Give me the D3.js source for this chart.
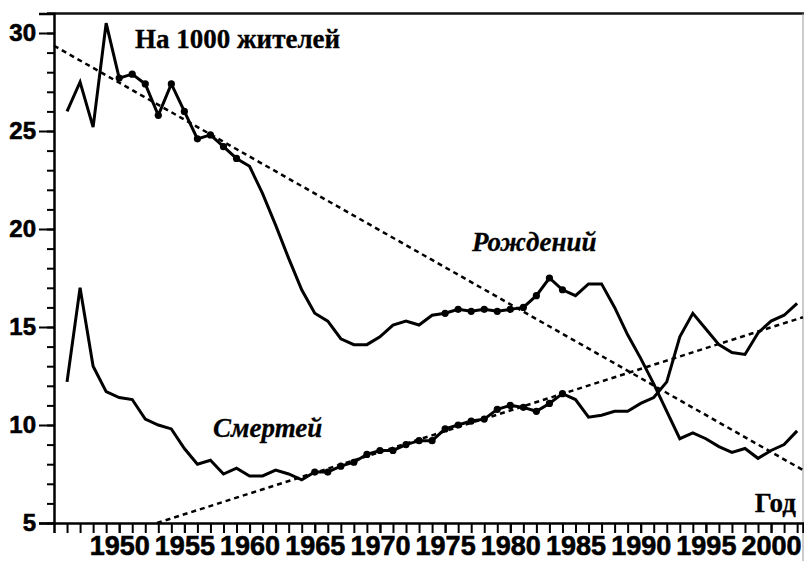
<!DOCTYPE html>
<html>
<head>
<meta charset="utf-8">
<script src="https://cdn.jsdelivr.net/npm/d3@7"></script>
<style>
  body { margin: 0; background: #fff; }
  svg { display: block; }
  .tick text { font-family: "Liberation Sans", Arial, sans-serif; font-weight: bold; fill: #000; stroke: #000; stroke-width: 0.6px; }
  .lbl { font-family: "Liberation Serif", "Times New Roman", serif; font-weight: bold; fill: #000; stroke: #000; stroke-width: 0.3px; }
</style>
</head>
<body>
<svg width="804" height="561"></svg>
<script>
  // years 1946..2002
  let years = d3.range(1946, 2003);

  // рождаемость, на 1000 жителей
  let births = [26.0, 27.5, 25.2, 30.5, 27.7, 27.9, 27.4, 25.8, 27.4, 26.0,
    24.6, 24.8, 24.2, 23.6, 23.2, 21.8, 20.2, 18.5, 16.9, 15.7,
    15.3, 14.4, 14.1, 14.1, 14.5, 15.1, 15.3, 15.1, 15.6, 15.7,
    15.9, 15.8, 15.9, 15.8, 15.9, 16.0, 16.6, 17.5, 16.9, 16.6,
    17.2, 17.2, 16.0, 14.6, 13.4, 12.1, 10.7, 9.3, 9.6, 9.3,
    8.9, 8.6, 8.8, 8.3, 8.7, 9.0, 9.7];

  // смертность, на 1000 жителей
  let deaths = [12.2, 17.0, 13.0, 11.7, 11.4, 11.3, 10.3, 10.0, 9.8, 8.8,
    8.0, 8.2, 7.5, 7.8, 7.4, 7.4, 7.7, 7.5, 7.2, 7.6,
    7.6, 7.9, 8.1, 8.5, 8.7, 8.7, 9.0, 9.2, 9.2, 9.8,
    10.0, 10.2, 10.3, 10.8, 11.0, 10.9, 10.7, 11.1, 11.6, 11.3,
    10.4, 10.5, 10.7, 10.7, 11.1, 11.4, 12.2, 14.5, 15.7, 14.9,
    14.1, 13.7, 13.6, 14.7, 15.3, 15.6, 16.2];

  // years marked with dots
  let birthMarked = d3.range(1950, 1960).concat(d3.range(1975, 1985));
  let deathMarked = d3.range(1965, 1985);

  // trend lines (end points)
  let birthTrend = [[1945, 29.35], [2002.45, 7.7]];
  let deathTrend = [[1952.9, 5.0], [2002.45, 15.5]];

  let yMajor = [5, 10, 15, 20, 25, 30];
  let yMinor = d3.range(5, 32);
  let xMajor = [1950, 1955, 1960, 1965, 1970, 1975, 1980, 1985, 1990, 1995, 2000];
  let xMinor = d3.range(1946, 2003);

  window.onload = function() {
    let svg = d3.select("svg");

    let x = d3.scaleLinear().domain([1945, 2002.45]).range([54, 803]);
    let y = d3.scaleLinear().domain([5, 31]).range([523, 13.4]);

    // frame: top line and right edge
    svg.append("line")
      .attr("x1", 47).attr("x2", 804)
      .attr("y1", y(31)).attr("y2", y(31))
      .attr("stroke", "#111").attr("stroke-width", 2.5);
    svg.append("line")
      .attr("x1", 803).attr("x2", 803)
      .attr("y1", y(31)).attr("y2", 561)
      .attr("stroke", "#999").attr("stroke-width", 1);

    // y axis
    svg.append("g")
      .attr("transform", "translate(" + x(1945) + ",0)")
      .call(d3.axisLeft(y).tickValues(yMinor).tickSize(7).tickFormat(""))
      .call(g => g.select(".domain").remove())
      .selectAll("line").attr("stroke", "#000").attr("stroke-width", 2);
    let ya = svg.append("g")
      .attr("transform", "translate(" + x(1945) + ",0)")
      .call(d3.axisLeft(y).tickValues(yMajor).tickSize(15).tickPadding(3).tickFormat(d3.format("d")));
    ya.select(".domain").attr("stroke", "#000").attr("stroke-width", 2.5);
    ya.selectAll("line").attr("stroke", "#000").attr("stroke-width", 2);
    ya.selectAll("text").style("font-size", "24px");

    // x axis
    svg.append("g")
      .attr("transform", "translate(0," + y(5) + ")")
      .call(d3.axisBottom(x).tickValues(xMinor).tickSize(10).tickFormat(""))
      .call(g => g.select(".domain").remove())
      .selectAll("line").attr("stroke", "#000").attr("stroke-width", 2);
    let xa = svg.append("g")
      .attr("transform", "translate(0," + y(5) + ")")
      .call(d3.axisBottom(x).tickValues(xMajor).tickSize(10).tickPadding(3).tickFormat(d3.format("d")));
    xa.select(".domain").attr("stroke", "#000").attr("stroke-width", 2.5);
    xa.selectAll("line").attr("stroke", "#000").attr("stroke-width", 2);
    xa.selectAll("text").style("font-size", "27px");

    // trend lines
    let trend = d3.line().x(d => x(d[0])).y(d => y(d[1]));
    [birthTrend, deathTrend].forEach(function(t) {
      svg.append("path")
        .attr("d", trend(t))
        .attr("fill", "none")
        .attr("stroke", "#000")
        .attr("stroke-width", 2.5)
        .attr("stroke-dasharray", "5,4");
    });

    // data lines
    let line = d3.line()
      .x((d, i) => x(years[i]))
      .y(d => y(d));

    [births, deaths].forEach(function(s) {
      svg.append("path")
        .attr("d", line(s))
        .attr("fill", "none")
        .attr("stroke", "#000")
        .attr("stroke-width", 3)
        .attr("stroke-linejoin", "miter");
    });

    // dots
    svg.selectAll(".bdot")
      .data(birthMarked)
      .enter()
      .append("circle")
      .attr("class", "bdot")
      .attr("cx", d => x(d))
      .attr("cy", d => y(births[years.indexOf(d)]))
      .attr("r", 3.6);
    svg.selectAll(".ddot")
      .data(deathMarked)
      .enter()
      .append("circle")
      .attr("class", "ddot")
      .attr("cx", d => x(d))
      .attr("cy", d => y(deaths[years.indexOf(d)]))
      .attr("r", 3.6);

    // labels
    svg.append("text").attr("class", "lbl")
      .attr("x", 135).attr("y", 48)
      .style("font-size", "27px")
      .text("На 1000 жителей");
    svg.append("text").attr("class", "lbl")
      .attr("x", 472).attr("y", 251)
      .style("font-size", "27px").style("font-style", "italic")
      .text("Рождений");
    svg.append("text").attr("class", "lbl")
      .attr("x", 213).attr("y", 437)
      .style("font-size", "27px").style("font-style", "italic")
      .text("Смертей");
    svg.append("text").attr("class", "lbl")
      .attr("x", 796).attr("y", 512)
      .attr("text-anchor", "end")
      .style("font-size", "27px")
      .text("Год");
  };
</script>
</body>
</html>
